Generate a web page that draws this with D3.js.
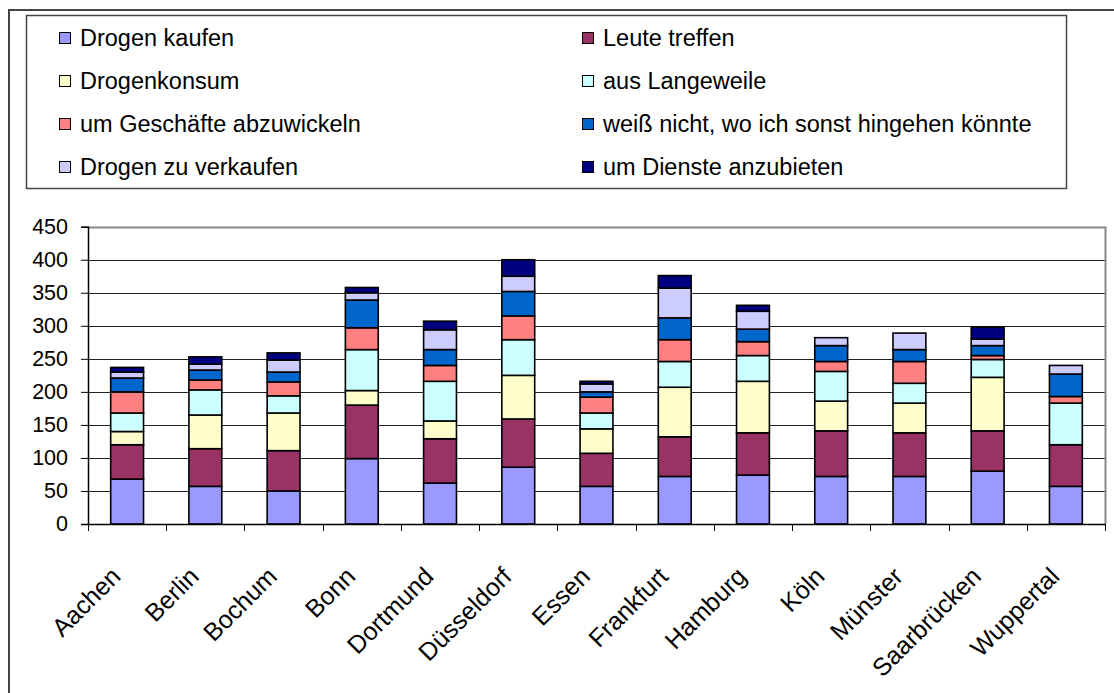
<!DOCTYPE html>
<html><head><meta charset="utf-8">
<script src="https://cdn.jsdelivr.net/npm/d3@7/dist/d3.min.js"></script>
<style>
body{margin:0;background:#fff}
text{font-family:Arial,"Liberation Sans",sans-serif;fill:#000}
</style>
</head><body>
<svg id="chart" width="1114" height="693"></svg>
<script>
const cities = ["Aachen","Berlin","Bochum","Bonn","Dortmund","Düsseldorf","Essen","Frankfurt","Hamburg","Köln","Münster","Saarbrücken","Wuppertal"];
const seriesNames = ["Drogen kaufen","Leute treffen","Drogenkonsum","aus Langeweile","um Geschäfte abzuwickeln","weiß nicht, wo ich sonst hingehen könnte","Drogen zu verkaufen","um Dienste anzubieten"];
const seriesColors = ["#9999FF","#993366","#FFFFCC","#CCFFFF","#FF8080","#0066CC","#CCCCFF","#000080"];
const drogenKaufen   = [68,57,50,99,62,86,57,72,74,72,72,80,57];
const leuteTreffen   = [52,57,61,81,67,73,50,60,64,69,66,61,63];
const drogenkonsum   = [20,51,57,22,27,66,37,75,78,45,45,81,0];
const ausLangeweile  = [28,38,26,62,60,54,24,39,39,45,30,27,63];
const geschaefte     = [32,15,21,33,24,36,24,33,21,15,33,6,10];
const weissNicht     = [21,15,15,42,24,37,8,33,19,24,18,15,34];
const verkaufen      = [9,9,18,11,30,23,12,45,27,12,25,10,13];
const dienste        = [7,11,11,8,13,25,4,19,9,0,0,18,0];
const yTicks = [0,50,100,150,200,250,300,350,400,450];

const seriesValues = [drogenKaufen,leuteTreffen,drogenkonsum,ausLangeweile,geschaefte,weissNicht,verkaufen,dienste];
const rows = cities.map((c,i)=>{const o={city:c}; seriesNames.forEach((s,j)=>o[s]=seriesValues[j][i]); return o;});
const stacked = d3.stack().keys(seriesNames)(rows);

const svg = d3.select("#chart");
svg.append("rect").attr("width",1114).attr("height",693).attr("fill","#fff");
// outer frame
svg.append("rect").attr("x",9).attr("y",10).attr("width",1300).attr("height",900)
  .attr("fill","none").attr("stroke","#444").attr("stroke-width",2);

const L=88, R=1105, T=226.7, B=524;
const x = d3.scaleBand().domain(cities).range([L,R]).paddingInner(0.58).paddingOuter(0.29);
const y = d3.scaleLinear().domain([0,450]).range([B,T]);
const step = x.step();

// gridlines
svg.append("g").selectAll("line").data(yTicks.filter(d=>d>0&&d<450)).join("line")
  .attr("x1",L).attr("x2",R).attr("y1",d=>Math.round(y(d))+0.5).attr("y2",d=>Math.round(y(d))+0.5)
  .attr("stroke","#222").attr("stroke-width",1);
// plot border top/right
svg.append("path").attr("d",`M${L},${Math.round(T)+0.5}H${R+0.5}V${B}`).attr("fill","none").attr("stroke","#888").attr("stroke-width",2);

// bars
svg.append("g").selectAll("g").data(stacked).join("g")
  .attr("fill",(d,i)=>seriesColors[i])
  .selectAll("rect").data(d=>d.filter(e=>e[1]-e[0]>0)).join("rect")
  .attr("x",d=>x(d.data.city)).attr("width",x.bandwidth())
  .attr("y",d=>y(d[1])).attr("height",d=>y(d[0])-y(d[1]))
  .attr("stroke","#000").attr("stroke-width",1.6);

// y axis
const ya = svg.append("g").attr("transform",`translate(${L},0)`)
  .call(d3.axisLeft(y).tickValues(yTicks).tickSize(7).tickPadding(13).tickFormat(d3.format("d")));
ya.select(".domain").attr("stroke","#000").attr("stroke-width",1.5);
ya.selectAll(".tick line").attr("stroke","#000");
ya.selectAll("text").style("font-size","21.5px").attr("font-family",null);

// x axis with ticks at category boundaries
const xa = svg.append("g").attr("transform",`translate(0,${B})`);
xa.append("line").attr("x1",L).attr("x2",R).attr("y1",0.5).attr("y2",0.5).attr("stroke","#000").attr("stroke-width",1.5);
const bounds = d3.range(cities.length+1).map(i=>L+i*step);
xa.selectAll("line.t").data(bounds).join("line").attr("class","t")
  .attr("x1",d=>Math.round(d)+0.5).attr("x2",d=>Math.round(d)+0.5).attr("y1",0).attr("y2",7).attr("stroke","#000");
xa.selectAll("text").data(cities).join("text")
  .attr("transform",d=>`translate(${x(d)+x.bandwidth()/2-5},${54}) rotate(-45)`)
  .attr("text-anchor","end").style("font-size","25px").text(d=>d);

// legend
svg.append("rect").attr("x",26.5).attr("y",15.5).attr("width",1040).attr("height",173)
  .attr("fill","#fff").attr("stroke","#444").attr("stroke-width",1.5);
const lg = svg.append("g").selectAll("g").data(seriesNames).join("g")
  .attr("transform",(d,i)=>`translate(${i%2===0?59:582},${37.5+Math.floor(i/2)*43})`);
lg.append("rect").attr("x",0.5).attr("y",-5).attr("width",11).attr("height",11)
  .attr("fill",(d,i)=>seriesColors[i]).attr("stroke","#000").attr("stroke-width",1);
lg.append("text").attr("x",21).attr("y",8.5).style("font-size","23.5px").text(d=>d);
</script>
</body></html>
